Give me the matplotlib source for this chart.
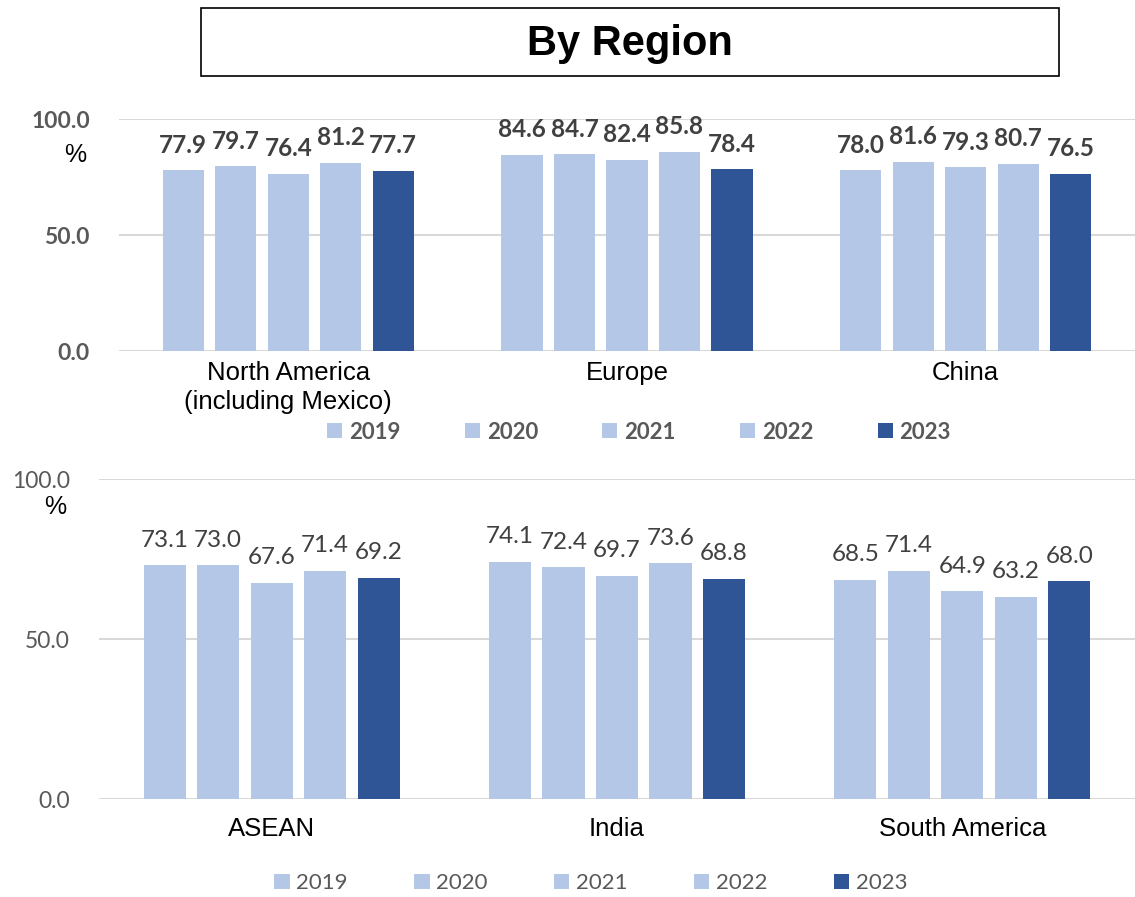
import numpy as np
import matplotlib
matplotlib.use('Agg')
import matplotlib.pyplot as plt
from matplotlib.patches import Rectangle

years = ['2019', '2020', '2021', '2022', '2023']

top_regions = ['North America\n(including Mexico)', 'Europe', 'China']
north_america = [77.9, 79.7, 76.4, 81.2, 77.7]
europe = [84.6, 84.7, 82.4, 85.8, 78.4]
china = [78.0, 81.6, 79.3, 80.7, 76.5]

bottom_regions = ['ASEAN', 'India', 'South America']
asean = [73.1, 73.0, 67.6, 71.4, 69.2]
india = [74.1, 72.4, 69.7, 73.6, 68.8]
south_america = [68.5, 71.4, 64.9, 63.2, 68.0]

yticks = [0, 50, 100]

LIGHT = '#B4C7E7'
DARK = '#2F5597'
colors = [LIGHT, LIGHT, LIGHT, LIGHT, DARK]
NUM_FONT = 'Lato'
CAT_FONT = 'Liberation Sans'


def draw_panel(ax, regions, series, bold, cat_pad):
    data = np.array(series)  # rows = regions, cols = years
    x = np.arange(len(regions))
    pitch = 0.155
    width = 0.122
    handles = []
    for j, yr in enumerate(years):
        pos = x + (j - 2) * pitch
        bars = ax.bar(pos, data[:, j], width, color=colors[j], label=yr, zorder=3)
        handles.append(bars)
        for p, v in zip(pos, data[:, j]):
            ax.annotate(f'{v:.1f}', (p, v), xytext=(0, 18), textcoords='offset points',
                        ha='center', va='center', fontsize=17.5, family=NUM_FONT,
                        fontweight='bold' if bold else 'normal', color='#404040')
    ax.set_xlim(-0.5, len(regions) - 0.5)
    ax.set_ylim(0, 100)
    ax.set_yticks(yticks)
    ax.set_yticklabels([f'{t:.1f}' for t in yticks], family=NUM_FONT, fontsize=16.5,
                       fontweight='bold' if bold else 'normal', color='#595959')
    ax.set_xticks(x)
    ax.set_xticklabels(regions, family=CAT_FONT, fontsize=18.5, color='black',
                       linespacing=1.3)
    ax.tick_params(axis='x', length=0, pad=cat_pad)
    ax.tick_params(axis='y', length=0, pad=21)
    ax.grid(axis='y', color='#D9D9D9', linewidth=1.5, zorder=0)
    for s in ax.spines.values():
        s.set_visible(False)
    return handles


fig = plt.figure(figsize=(11.35, 8.97), dpi=100)

ax1 = fig.add_axes([119 / 1135, 1 - 351 / 897, 1 - 119 / 1135, (351 - 119) / 897])
h1 = draw_panel(ax1, top_regions, [north_america, europe, china], True, 7)

ax2 = fig.add_axes([99 / 1135, 1 - 799 / 897, 1 - 99 / 1135, (799 - 479) / 897])
h2 = draw_panel(ax2, bottom_regions, [asean, india, south_america], False, 13)

# unit labels under the top tick
fig.text(75 / 1135, 1 - 155 / 897, '%', ha='center', va='center', fontsize=18, family=CAT_FONT)
fig.text(55 / 1135, 1 - 507 / 897, '%', ha='center', va='center', fontsize=18, family=CAT_FONT)

# legends
leg_kw = dict(ncol=5, frameon=False, handlelength=0.68, handleheight=0.68,
              handletextpad=0.3, borderaxespad=0)
fig.legend(handles=h1, labels=years, loc='center', bbox_to_anchor=(639 / 1135, 1 - 432 / 897),
           columnspacing=2.9, prop={'family': NUM_FONT, 'size': 16, 'weight': 'bold'},
           labelcolor='#595959', **leg_kw)
fig.legend(handles=h2, labels=years, loc='center', bbox_to_anchor=(591 / 1135, 1 - 883 / 897),
           columnspacing=3.0, prop={'family': NUM_FONT, 'size': 16},
           labelcolor='#595959', **leg_kw)

# boxed title
fig.patches.append(Rectangle((201 / 1135, 1 - 76 / 897), (1059 - 201) / 1135, (76 - 8) / 897,
                             transform=fig.transFigure, fill=False, edgecolor='black', linewidth=1.2))
fig.text(630 / 1135, 1 - 44 / 897, 'By Region', ha='center', va='center', fontsize=30,
         fontweight='bold', family=CAT_FONT)

fig.savefig('out.png', dpi=100)
